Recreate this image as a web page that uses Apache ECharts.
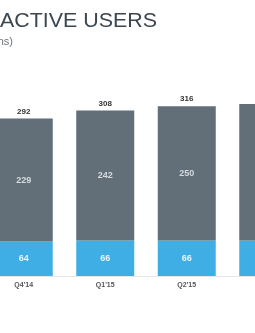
<!DOCTYPE html>
<html>
<head>
<meta charset="utf-8">
<script src="https://cdn.jsdelivr.net/npm/echarts@6/dist/echarts.min.js"></script>
<style>
  html, body { margin: 0; padding: 0; background: #fff; }
  #chart { width: 255px; height: 333px; }
</style>
</head>
<body>
<div id="chart"></div>
<script>
const quarters = ["Q4'14", "Q1'15", "Q2'15", "Q3'15"];
const intlUsers = [229, 242, 250, 254];
const usUsers = [64, 66, 66, 66];
const totalUsers = [292, 308, 316, 320];

const chart = echarts.init(document.getElementById('chart'));

// графика обрезана слева и справа, как на исходной картинке
const option = {
  animation: false,
  grid: { left: -17, right: -54, top: 61, bottom: 57, outerBoundsMode: 'none', containLabel: false },
  graphic: [
    {
      type: 'text', x: 157, y: 11,
      scaleX: 1.02, origin: [0, 0],
      style: {
        text: 'MONTHLY ACTIVE USERS', align: 'right',
        font: '21px "Liberation Sans", Arial, sans-serif', fill: '#3a4650'
      }
    },
    {
      type: 'text', x: 13, y: 36,
      style: {
        text: '(in millions)', align: 'right',
        font: '11px "Liberation Sans", Arial, sans-serif', fill: '#6b747b'
      }
    }
  ],
  xAxis: {
    type: 'category',
    data: quarters,
    axisLine: { show: true, lineStyle: { color: '#e6e6e6', width: 1 } },
    axisTick: { show: false },
    axisLabel: {
      margin: 6, fontSize: 7, fontWeight: 'bold', color: '#555',
      fontFamily: '"Liberation Sans", Arial, sans-serif'
    }
  },
  yAxis: { type: 'value', min: 0, max: 400, show: false, splitLine: { show: false } },
  series: [
    {
      name: 'US', type: 'bar', stack: 'mau', data: usUsers, barWidth: 58,
      itemStyle: { color: '#3eaee4' },
      label: {
        show: true, position: 'inside', color: '#e8f4fb', fontSize: 9, fontWeight: 'bold',
        fontFamily: '"Liberation Sans", Arial, sans-serif'
      }
    },
    {
      name: 'International', type: 'bar', stack: 'mau', data: intlUsers, barWidth: 58,
      itemStyle: { color: '#626f78' },
      label: {
        show: true, position: 'inside', color: '#d5dadd', fontSize: 9, fontWeight: 'bold',
        fontFamily: '"Liberation Sans", Arial, sans-serif'
      }
    },
    {
      name: 'Total', type: 'bar', data: totalUsers, barWidth: 58, barGap: '-100%', z: 1,
      itemStyle: { color: 'rgba(0,0,0,0)' },
      label: {
        show: true, position: 'top', distance: 3, color: '#333', fontSize: 8, fontWeight: 'bold',
        fontFamily: '"Liberation Sans", Arial, sans-serif'
      }
    }
  ]
};

chart.setOption(option);
</script>
</body>
</html>
